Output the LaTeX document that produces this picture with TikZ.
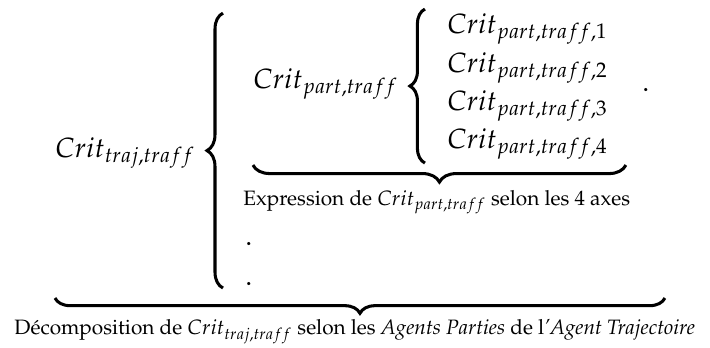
\documentclass[tikz,border=0pt]{standalone}
\usepackage[T1]{fontenc}
\usepackage{mathpazo}
\usetikzlibrary{decorations.pathreplacing}
\tikzset{
	every node/.style={
		font=\fontsize{11.9}{14.6}\selectfont,
		inner sep=0pt
	},
	formule/.style={
		anchor=base west
	},
	legende/.style={
		font=\fontsize{8.9}{11}\selectfont,
		anchor=base west
	},
	accolade/.style={
		decorate,
		decoration={brace, amplitude=#1},
		line width=1.3pt
	},
	accolade/.default=0.23cm
}

\begin{document}
\begin{tikzpicture}
	\useasboundingbox (0,0) rectangle (10.68,5.22);
	
	% premier niveau
	\node[formule] (crittraj) at (0.827,2.858) {$Crit_{traj,traff}$};
	\draw[accolade=0.24cm] (3.354,0.887) -- (3.354,5.023);
	
	% second niveau
	\node[formule] (critpart) at (3.805,3.895) {$Crit_{part,traff}$};
	\draw[accolade=0.226cm] (6.392,2.767) -- (6.392,5.084);
	
	\foreach \k/\yy in {1/4.723, 2/4.136, 3/3.564, 4/2.993} {
		\node[formule] (crit\k) at (6.723,\yy) {$Crit_{part,traff,\k}$};
	}
	\node[formule] (point) at (9.657,3.850) {.};
	
	\draw[accolade=0.256cm] (9.415,2.737) -- (3.805,2.737);
	\node[legende] (expression) at (3.655,2.136) {Expression de $Crit_{part,traff}$ selon les 4 axes};
	
	\node[formule] (point1) at (3.685,1.534) {.};
	\node[formule] (point2) at (3.685,0.932) {.};
	
	\draw[accolade] (10.002,0.737) -- (0.827,0.737);
	\node[legende] (decomposition) at (0.211,0.185) {D\'ecomposition de $Crit_{traj,traff}$ selon les \textit{Agents Parties} de l\textit{'Agent Trajectoire}};
	
\end{tikzpicture}
\end{document}
